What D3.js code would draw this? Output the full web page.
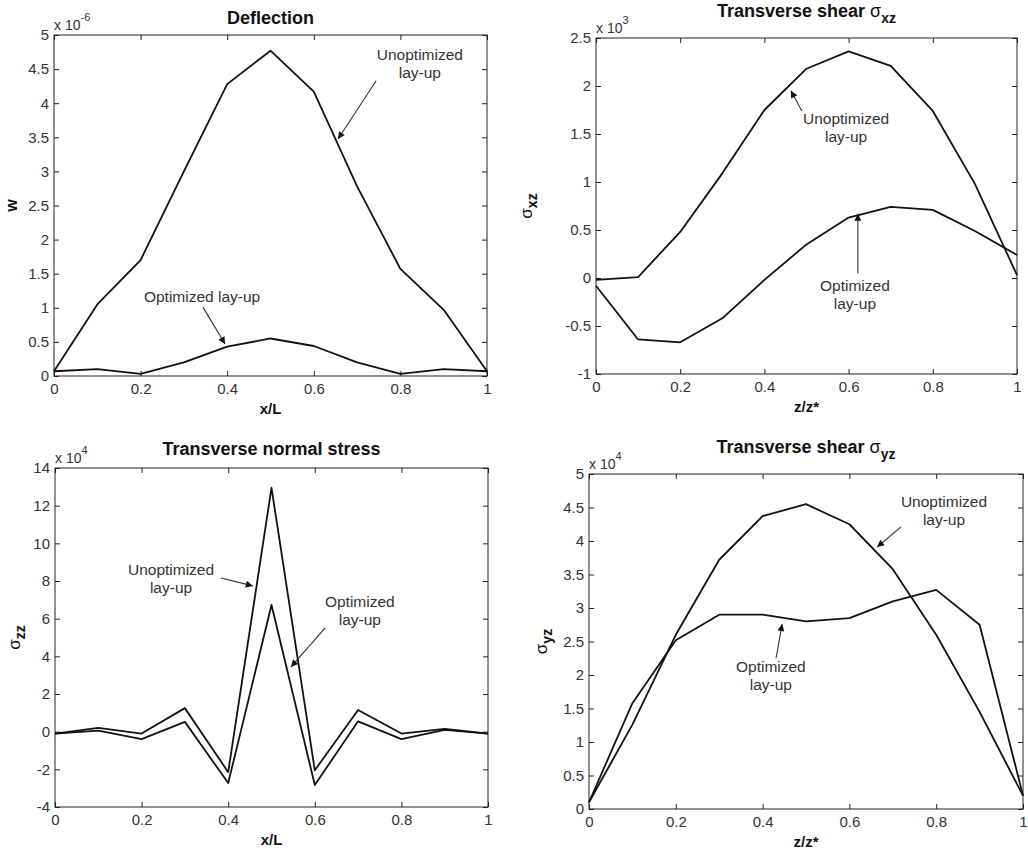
<!DOCTYPE html>
<html>
<head>
<meta charset="utf-8">
<script src="https://cdn.jsdelivr.net/npm/d3@7"></script>
<style>
  body { margin: 0; background: #fff; }
  svg text { font-family: "Liberation Sans", Arial, sans-serif; }
  .tick text { fill: #333; font-size: 15px; }
  .tick line { stroke: #222; }
</style>
</head>
<body>
<div id="container"></div>
<script>
// data
var xs = [0, 0.1, 0.2, 0.3, 0.4, 0.5, 0.6, 0.7, 0.8, 0.9, 1];
var xTicks = [0, 0.2, 0.4, 0.6, 0.8, 1];

var deflUnopt = [0.07, 1.05, 1.7, 3.0, 4.28, 4.77, 4.17, 2.78, 1.57, 0.97, 0.07];
var deflOpt   = [0.07, 0.1, 0.03, 0.2, 0.43, 0.55, 0.44, 0.2, 0.03, 0.1, 0.07];

var sxzUnopt = [-0.02, 0.01, 0.48, 1.09, 1.75, 2.18, 2.36, 2.21, 1.74, 0.98, 0.03];
var sxzOpt   = [-0.08, -0.64, -0.67, -0.42, -0.02, 0.35, 0.63, 0.74, 0.71, 0.49, 0.24];

var szzUnopt = [-0.1, 0.2, -0.1, 1.25, -2.15, 12.95, -2.05, 1.15, -0.1, 0.15, -0.1];
var szzOpt   = [-0.1, 0.05, -0.4, 0.52, -2.73, 6.73, -2.83, 0.55, -0.4, 0.1, -0.1];

var syzUnopt = [0.1, 1.26, 2.6, 3.72, 4.37, 4.55, 4.25, 3.58, 2.6, 1.45, 0.2];
var syzOpt   = [0.1, 1.58, 2.52, 2.9, 2.9, 2.8, 2.85, 3.1, 3.27, 2.75, 0.2];

var deflTicks = d3.range(0, 5.01, 0.5);
var sxzTicks = d3.range(-1, 2.51, 0.5);
var szzTicks = d3.range(-4, 14.1, 2);
var syzTicks = d3.range(0, 5.01, 0.5);

var W = 1028, H = 852;
var svg = d3.select("#container").append("svg").attr("width", W).attr("height", H);

var panels = [
  { left: 54, top: 35, width: 433, height: 341, yDomain: [0, 5], yTicks: deflTicks,
    title: "Deflection", titleSub: null, titleGap: 11,
    xLabel: "x/L", yLabel: "w", ySub: null, yLabelGap: 42, exp: "-6",
    series: [deflUnopt, deflOpt],
    notes: [
      { lines: ["Unoptimized", "lay-up"], tx: 0.845, ty: 4.63, ax: 0.744, ay: 4.33, bx: 0.656, by: 3.475 },
      { lines: ["Optimized lay-up"], tx: 0.342, ty: 1.085, ax: 0.344, ay: 1.01, bx: 0.395, by: 0.47 }
    ] },
  { left: 596, top: 38, width: 421, height: 336, yDomain: [-1, 2.5], yTicks: sxzTicks,
    title: "Transverse shear ", titleSub: "xz", titleGap: 21,
    xLabel: "z/z*", yLabel: "σ", ySub: "xz", yLabelGap: 69, exp: "3",
    series: [sxzUnopt, sxzOpt],
    notes: [
      { lines: ["Unoptimized", "lay-up"], tx: 0.594, ty: 1.60, ax: 0.489, ay: 1.74, bx: 0.463, by: 1.95 },
      { lines: ["Optimized", "lay-up"], tx: 0.615, ty: -0.135, ax: 0.622, ay: 0.05, bx: 0.622, by: 0.67 }
    ] },
  { left: 55, top: 468, width: 433, height: 339, yDomain: [-4, 14], yTicks: szzTicks,
    title: "Transverse normal stress", titleSub: null, titleGap: 13,
    xLabel: "x/L", yLabel: "σ", ySub: "zz", yLabelGap: 40, exp: "4",
    series: [szzUnopt, szzOpt],
    notes: [
      { lines: ["Unoptimized", "lay-up"], tx: 0.268, ty: 8.32, ax: 0.383, ay: 8.16, bx: 0.457, by: 7.74 },
      { lines: ["Optimized", "lay-up"], tx: 0.704, ty: 6.62, ax: 0.624, ay: 5.51, bx: 0.545, by: 3.44 }
    ] },
  { left: 589, top: 474, width: 434, height: 335, yDomain: [0, 5], yTicks: syzTicks,
    title: "Transverse shear ", titleSub: "yz", titleGap: 21,
    xLabel: "z/z*", yLabel: "σ", ySub: "yz", yLabelGap: 47, exp: "4",
    series: [syzUnopt, syzOpt],
    notes: [
      { lines: ["Unoptimized", "lay-up"], tx: 0.818, ty: 4.51, ax: 0.719, ay: 4.21, bx: 0.664, by: 3.91 },
      { lines: ["Optimized", "lay-up"], tx: 0.419, ty: 2.04, ax: 0.431, ay: 2.25, bx: 0.445, by: 2.76 }
    ] }
];

var fmt = function(d) { return String(+d.toFixed(2)); };

svg.append("defs").append("marker")
    .attr("id", "head")
    .attr("viewBox", "0 0 10 10")
    .attr("refX", 10).attr("refY", 5)
    .attr("markerWidth", 10).attr("markerHeight", 7)
    .attr("markerUnits", "userSpaceOnUse")
    .attr("orient", "auto")
  .append("path")
    .attr("d", "M0,0L10,5L0,10z")
    .attr("fill", "#111");

panels.forEach(function(p) {
  var g = svg.append("g").attr("transform", "translate(" + p.left + "," + p.top + ")");
  var x = d3.scaleLinear().domain([0, 1]).range([0, p.width]);
  var y = d3.scaleLinear().domain(p.yDomain).range([p.height, 0]);

  // axes with inward ticks on all four sides
  g.append("g").attr("transform", "translate(0," + p.height + ")")
    .call(d3.axisBottom(x).tickValues(xTicks).tickFormat(fmt).tickSize(-5).tickSizeOuter(0).tickPadding(7))
    .call(function(a) { a.select(".domain").remove(); });
  g.append("g")
    .call(d3.axisTop(x).tickValues(xTicks).tickFormat("").tickSize(-5).tickSizeOuter(0))
    .call(function(a) { a.select(".domain").remove(); });
  g.append("g")
    .call(d3.axisLeft(y).tickValues(p.yTicks).tickFormat(fmt).tickSize(-5).tickSizeOuter(0).tickPadding(5))
    .call(function(a) { a.select(".domain").remove(); });
  g.append("g").attr("transform", "translate(" + p.width + ",0)")
    .call(d3.axisRight(y).tickValues(p.yTicks).tickFormat("").tickSize(-5).tickSizeOuter(0))
    .call(function(a) { a.select(".domain").remove(); });

  g.append("rect").attr("width", p.width).attr("height", p.height)
    .attr("fill", "none").attr("stroke", "#222").attr("stroke-width", 1);

  var line = d3.line().x(function(d, i) { return x(xs[i]); }).y(function(d) { return y(d); });
  p.series.forEach(function(s) {
    g.append("path").datum(s).attr("d", line)
      .attr("fill", "none").attr("stroke", "#111").attr("stroke-width", 1.8)
      .attr("stroke-linejoin", "round");
  });

  // title
  var t = g.append("text").attr("x", p.width / 2).attr("y", -p.titleGap)
    .attr("text-anchor", "middle").style("font-size", "18px").style("font-weight", "bold").attr("fill", "#111");
  t.append("tspan").text(p.title);
  if (p.titleSub) {
    t.append("tspan").text("σ").style("font-weight", "normal").style("font-size", "18px");
    t.append("tspan").text(p.titleSub).attr("dy", 6).style("font-size", "14px");
  }

  // exponent
  var e = g.append("text").attr("x", 0).attr("y", -5).attr("fill", "#333").style("font-size", "14px");
  e.append("tspan").text("x 10");
  e.append("tspan").text(p.exp).attr("dy", -9).style("font-size", "11px");

  // axis labels
  g.append("text").attr("x", p.width / 2).attr("y", p.height + 38)
    .attr("text-anchor", "middle").style("font-size", "15px").style("font-weight", "bold")
    .attr("fill", "#111").text(p.xLabel);
  var yl = g.append("text")
    .attr("transform", "translate(" + (-p.yLabelGap + 5) + "," + (p.height / 2) + ") rotate(-90)")
    .attr("text-anchor", "middle").attr("fill", "#111");
  if (p.ySub) {
    yl.append("tspan").text(p.yLabel).style("font-size", "17px");
    yl.append("tspan").text(p.ySub).attr("dy", 5).style("font-size", "14px").style("font-weight", "bold");
  } else {
    yl.append("tspan").text(p.yLabel).style("font-size", "16px").style("font-weight", "bold");
  }

  // annotations
  p.notes.forEach(function(n) {
    var nt = g.append("text").attr("text-anchor", "middle").attr("fill", "#333").style("font-size", "15.5px");
    n.lines.forEach(function(l, i) {
      nt.append("tspan").attr("x", x(n.tx)).attr("y", y(n.ty) + i * 18).text(l);
    });
    g.append("line")
      .attr("x1", x(n.ax)).attr("y1", y(n.ay)).attr("x2", x(n.bx)).attr("y2", y(n.by))
      .attr("stroke", "#333").attr("stroke-width", 1.1).attr("marker-end", "url(#head)");
  });
});
</script>
</body>
</html>
